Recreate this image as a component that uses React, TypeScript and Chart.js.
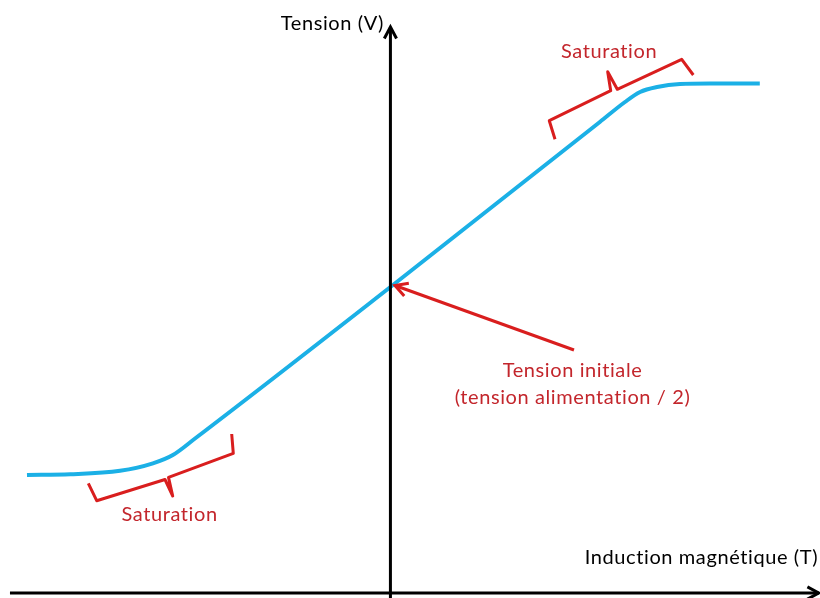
import { useEffect, useRef } from 'react';
import { Chart, registerables } from 'chart.js';

Chart.register(...registerables);

// Courbe tension / induction (unités arbitraires)
const inductionB = [-0.984, -0.867, -0.732, -0.643, -0.589, -0.529, 0, 0.567, 0.635, 0.676, 0.722, 0.784, 0.865, 1.0];
const tensionV = [1.18, 1.187, 1.222, 1.297, 1.38, 1.545, 3.06, 4.71, 4.91, 5.01, 5.06, 5.09, 5.095, 5.095];

// Axes (extrémités)
const xAxisB = [-1.03, 1.16];
const xAxisV = [0, 0];
const yAxisB = [0, 0];
const yAxisV = [-0.05, 5.66];

// Accolades "Saturation"
const braceUpperB = [0.4456, 0.4301, 0.5964, 0.5882, 0.6142, 0.7886, 0.82];
const braceUpperV = [4.537, 4.723, 5.023, 5.213, 5.037, 5.337, 5.18];
const braceLowerB = [-0.8179, -0.7952, -0.6103, -0.5894, -0.6008, -0.4254, -0.4297];
const braceLowerV = [1.097, 0.923, 1.135, 0.97, 1.157, 1.397, 1.59];

// Flèche "Tension initiale"
const arrowB = [0.497, 0.0124];
const arrowV = [2.43, 3.075];

// Textes
const labelTexts = ['Tension (V)', 'Induction magnétique (T)', 'Saturation', 'Saturation', 'Tension initiale', '(tension alimentation / 2)'];
const labelB = [-0.157, 0.842, 0.592, -0.598, 0.493, 0.493];
const labelV = [5.63, 0.29, 5.35, 0.72, 2.16, 1.89];
const labelRed = [false, false, true, true, true, true];

const BLUE = '#1BB0E6';
const RED_LINE = '#D91E1E';
const RED_TEXT = '#C3262C';
const BLACK = '#000000';
const FONT = '20px Lato, "Open Sans", sans-serif';

const pts = (bs: number[], vs: number[]) => bs.map((b, i) => ({ x: b, y: vs[i] }));

function arrowHead(ctx: CanvasRenderingContext2D, tx: number, ty: number, fx: number, fy: number, color: string, width: number, len: number, halfDeg: number) {
  const ang = Math.atan2(fy - ty, fx - tx);
  const h = (halfDeg * Math.PI) / 180;
  ctx.save();
  ctx.strokeStyle = color;
  ctx.lineWidth = width;
  ctx.lineJoin = 'miter';
  ctx.lineCap = 'butt';
  ctx.beginPath();
  ctx.moveTo(tx + len * Math.cos(ang - h), ty + len * Math.sin(ang - h));
  ctx.lineTo(tx, ty);
  ctx.lineTo(tx + len * Math.cos(ang + h), ty + len * Math.sin(ang + h));
  ctx.stroke();
  ctx.restore();
}

const overlayPlugin = {
  id: 'overlay',
  afterDatasetsDraw(chart: any) {
    const { ctx, scales } = chart;
    const sx = scales.x;
    const sy = scales.y;
    const px = (b: number) => sx.getPixelForValue(b);
    const py = (v: number) => sy.getPixelForValue(v);
    arrowHead(ctx, px(xAxisB[1]), py(xAxisV[1]), px(xAxisB[0]), py(xAxisV[0]), BLACK, 3, 13, 28);
    arrowHead(ctx, px(yAxisB[1]), py(yAxisV[1]), px(yAxisB[0]), py(yAxisV[0]), BLACK, 3, 13, 28);
    arrowHead(ctx, px(arrowB[1]), py(arrowV[1]), px(arrowB[0]), py(arrowV[0]), RED_LINE, 3, 14, 29);
    ctx.save();
    ctx.font = FONT;
    (ctx as any).letterSpacing = '0.6px';
    ctx.textAlign = 'center';
    ctx.textBaseline = 'alphabetic';
    labelTexts.forEach((t, i) => {
      ctx.fillStyle = labelRed[i] ? RED_TEXT : BLACK;
      ctx.fillText(t, px(labelB[i]), py(labelV[i]));
    });
    ctx.restore();
  },
};

export default function App() {
  const ref = useRef<HTMLCanvasElement | null>(null);
  useEffect(() => {
    if (!ref.current) return;
    const common = { pointRadius: 0, pointHoverRadius: 0, fill: false, clip: false as any };
    const chart = new Chart(ref.current, {
      type: 'line',
      data: {
        datasets: [
          { ...common, data: pts(yAxisB, yAxisV), borderColor: BLACK, borderWidth: 3, tension: 0, order: 0 },
          { ...common, data: pts(xAxisB, xAxisV), borderColor: BLACK, borderWidth: 3, tension: 0, order: 1 },
          { ...common, data: pts(inductionB, tensionV), borderColor: BLUE, borderWidth: 4, cubicInterpolationMode: 'monotone', order: 2 },
          { ...common, data: pts(braceUpperB, braceUpperV), borderColor: RED_LINE, borderWidth: 3, tension: 0, borderJoinStyle: 'round', order: 3 },
          { ...common, data: pts(braceLowerB, braceLowerV), borderColor: RED_LINE, borderWidth: 3, tension: 0, borderJoinStyle: 'round', order: 4 },
          { ...common, data: pts(arrowB, arrowV), borderColor: RED_LINE, borderWidth: 3, tension: 0, order: 5 },
        ],
      },
      options: {
        responsive: false,
        animation: false,
        events: [],
        layout: { padding: 0 },
        scales: {
          x: { type: 'linear', min: -1.057, max: 1.163, display: false },
          y: { type: 'linear', min: -0.05, max: 5.93, display: false },
        },
        plugins: { legend: { display: false }, tooltip: { enabled: false } },
      },
      plugins: [overlayPlugin],
    } as any);
    return () => chart.destroy();
  }, []);
  return (
    <div style={{ position: 'fixed', left: 0, top: 0, width: 820, height: 598, background: '#fff' }}>
      <canvas ref={ref} width={820} height={598} style={{ display: 'block' }} />
    </div>
  );
}
